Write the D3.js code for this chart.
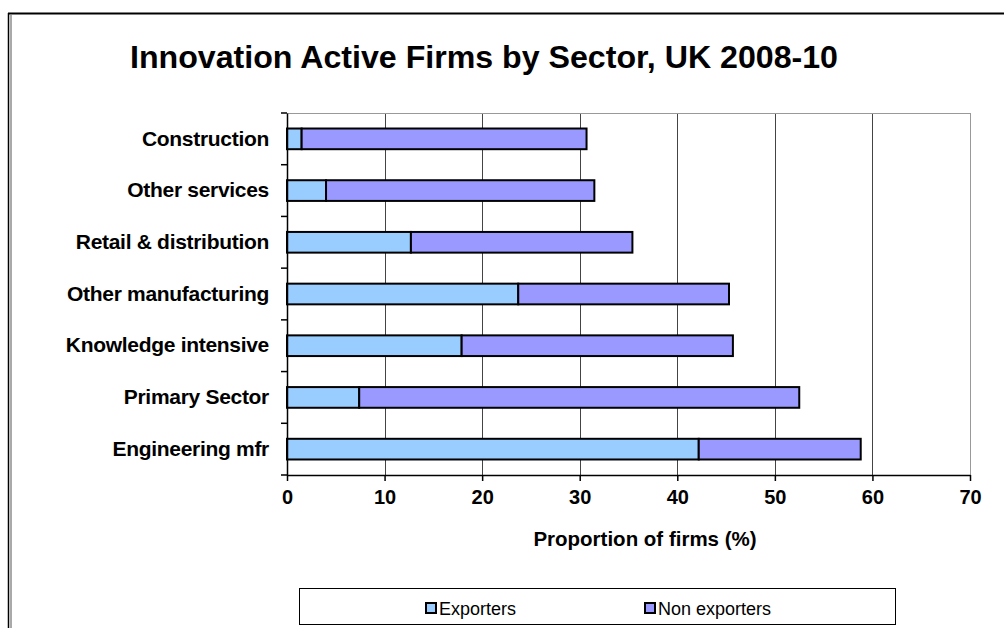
<!DOCTYPE html>
<html>
<head>
<meta charset="utf-8">
<script src="https://cdn.jsdelivr.net/npm/d3@7"></script>
<style>
  body { margin: 0; background: #fff; }
  svg { display: block; font-family: "Liberation Sans", Arial, sans-serif; }
</style>
</head>
<body>
<div id="chart"></div>
<script>
// sectors top to bottom
var sectors = ["Construction", "Other services", "Retail & distribution", "Other manufacturing",
               "Knowledge intensive", "Primary Sector", "Engineering mfr"];
var exporters    = [1.5, 4.0, 12.7, 23.7, 17.9, 7.4, 42.2];
var nonExporters = [29.2, 27.5, 22.7, 21.6, 27.8, 45.1, 16.6];
var xTicks = [0, 10, 20, 30, 40, 50, 60, 70];
var seriesNames = ["Exporters", "Non exporters"];
var colors = ["#99ccff", "#9999ff"];

var width = 1004, height = 628;
var margin = {top: 113, right: 34, bottom: 153, left: 287};
var w = width - margin.left - margin.right,
    h = height - margin.top - margin.bottom;

var svg = d3.select("#chart").append("svg")
    .attr("width", width)
    .attr("height", height);

// outer frame (top + double left line)
svg.append("line").attr("x1", 8).attr("x2", width).attr("y1", 13.5).attr("y2", 13.5)
    .attr("stroke", "#000").attr("stroke-width", 2);
svg.append("line").attr("x1", 8.5).attr("x2", 8.5).attr("y1", 13).attr("y2", height)
    .attr("stroke", "#000").attr("stroke-width", 1.5);
svg.append("line").attr("x1", 11).attr("x2", 11).attr("y1", 15).attr("y2", height)
    .attr("stroke", "#555").attr("stroke-width", 1);

svg.append("text")
    .attr("x", 484).attr("y", 68)
    .attr("text-anchor", "middle")
    .attr("textLength", 708).attr("lengthAdjust", "spacingAndGlyphs")
    .style("font-size", "31px").style("font-weight", "bold")
    .text("Innovation Active Firms by Sector, UK 2008-10");

var x = d3.scaleLinear().domain([0, 70]).range([0, w]);
var y = d3.scaleBand().domain(sectors).range([0, h]).paddingInner(0.6).paddingOuter(0.3);

var g = svg.append("g").attr("transform", "translate(" + margin.left + "," + margin.top + ")");

// gridlines
g.selectAll(".grid").data(xTicks.slice(1)).enter().append("line")
    .attr("x1", function(d) { return Math.round(x(d)) + 0.5; })
    .attr("x2", function(d) { return Math.round(x(d)) + 0.5; })
    .attr("y1", 0).attr("y2", h)
    .attr("stroke", function(d) { return d == 70 ? "#999" : "#444"; })
    .attr("stroke-width", 1);
g.append("line").attr("x1", 0).attr("x2", w).attr("y1", 0.5).attr("y2", 0.5)
    .attr("stroke", "#999");

var rows = sectors.map(function(s, i) {
  return {name: s, vals: [[0, exporters[i]], [exporters[i], exporters[i] + nonExporters[i]]]};
});

var row = g.selectAll(".row").data(rows).enter().append("g");
row.selectAll("rect").data(function(d) { return d.vals.map(function(v, j) { return {v: v, j: j, name: d.name}; }); })
  .enter().append("rect")
    .attr("x", function(d) { return x(d.v[0]); })
    .attr("width", function(d) { return x(d.v[1]) - x(d.v[0]); })
    .attr("y", function(d) { return y(d.name); })
    .attr("height", y.bandwidth())
    .attr("fill", function(d) { return colors[d.j]; })
    .attr("stroke", "#000")
    .attr("stroke-width", 2);

// y axis
var yAxis = g.append("g")
    .call(d3.axisLeft(y).tickSize(0).tickPadding(18));
yAxis.select(".domain").attr("stroke", "#000").attr("stroke-width", 1.5);
yAxis.selectAll("text").style("font-size", "21px").style("font-weight", "bold")
    .style("letter-spacing", "-0.3px").attr("fill", "#000");
// category separators ticks
g.selectAll(".ytick").data(d3.range(sectors.length + 1)).enter().append("line")
    .attr("x1", -6).attr("x2", 0)
    .attr("y1", function(d) { return d * h / sectors.length; })
    .attr("y2", function(d) { return d * h / sectors.length; })
    .attr("stroke", "#000").attr("stroke-width", 1.5);

// x axis
var xAxis = g.append("g")
    .attr("transform", "translate(0," + h + ")")
    .call(d3.axisBottom(x).tickValues(xTicks).tickSize(6).tickSizeOuter(0).tickPadding(9));
xAxis.select(".domain").attr("stroke", "#000").attr("stroke-width", 1.5);
xAxis.selectAll("line").attr("stroke", "#000").attr("stroke-width", 1.5);
xAxis.selectAll("text").style("font-size", "20px").style("font-weight", "bold").attr("fill", "#000");

svg.append("text")
    .attr("x", 645).attr("y", 546)
    .attr("text-anchor", "middle")
    .style("font-size", "20.5px").style("font-weight", "bold")
    .text("Proportion of firms (%)");

// legend
var legend = svg.append("g");
legend.append("rect").attr("x", 299.5).attr("y", 588.5).attr("width", 596).attr("height", 36)
    .attr("fill", "#fff").attr("stroke", "#000").attr("stroke-width", 1);
var items = legend.selectAll(".item").data(seriesNames).enter().append("g")
    .attr("transform", function(d, i) { return "translate(" + [425, 644][i] + ",608)"; });
items.append("rect").attr("x", 1).attr("y", -5).attr("width", 10).attr("height", 10)
    .attr("fill", function(d, i) { return colors[i]; })
    .attr("stroke", "#000").attr("stroke-width", 2);
items.append("text").attr("x", 14).attr("y", 6.5)
    .style("font-size", "18px")
    .text(function(d) { return d; });
</script>
</body>
</html>
